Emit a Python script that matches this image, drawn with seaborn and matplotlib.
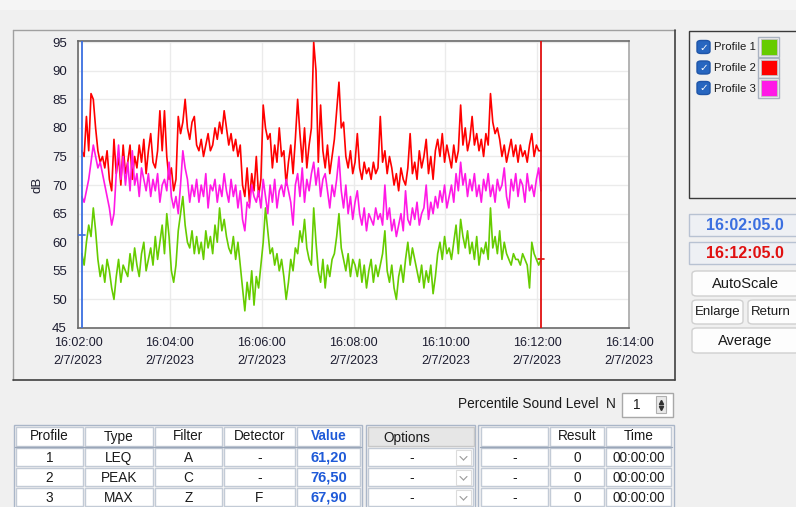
import numpy as np
import pandas as pd
import matplotlib
matplotlib.use("Agg")
import matplotlib.pyplot as plt
import matplotlib.dates as mdates
from matplotlib.patches import Rectangle, FancyBboxPatch
from matplotlib.lines import Line2D
import seaborn as sns

# ---------------- data (3 s sampling) ----------------
profile_names = ["Profile 1", "Profile 2", "Profile 3"]
profile_colors = ["#66cc00", "#ff0000", "#ff19e6"]
start_time = "2023-02-07 16:02:05"
sample_step = "3s"

profile1 = [58, 56, 60, 63, 61, 66, 62, 57, 54, 56,
            53, 57, 55, 52, 50, 54, 57, 53, 56, 55,
            54, 58, 55, 59, 56, 54, 58, 60, 55, 57,
            59, 56, 61, 57, 60, 63, 58, 65, 61, 55,
            53, 56, 62, 65, 68, 63, 60, 59, 62, 58,
            61, 58, 60, 57, 62, 59, 61, 58, 63, 60,
            66, 62, 64, 61, 59, 58, 61, 57, 60, 56,
            52, 48, 53, 50, 55, 49, 54, 52, 56, 60,
            66, 62, 58, 59, 56, 58, 55, 57, 54, 50,
            53, 57, 55, 59, 58, 62, 60, 64, 59, 57,
            56, 66, 60, 55, 53, 57, 52, 56, 54, 57,
            58, 61, 65, 59, 57, 55, 58, 54, 57, 56,
            54, 57, 53, 56, 52, 55, 57, 53, 56, 54,
            56, 58, 62, 55, 53, 56, 52, 50, 54, 56,
            53, 57, 60, 56, 59, 57, 55, 53, 56, 52,
            55, 53, 56, 51, 54, 58, 60, 57, 61, 58,
            59, 57, 60, 63, 58, 64, 61, 59, 62, 58,
            60, 57, 61, 56, 59, 58, 60, 57, 66, 59,
            61, 58, 62, 57, 60, 58, 57, 56, 58, 57,
            57, 56, 58, 57, 56, 52, 60, 58, 57, 56, 57]

profile2 = [76, 75, 82, 76, 86, 85, 80, 76, 74, 75,
            73, 76, 71, 69, 78, 72, 75, 70, 77, 72,
            74, 77, 71, 75, 73, 77, 74, 78, 72, 76,
            79, 74, 73, 76, 83, 76, 83, 75, 71, 73,
            69, 71, 82, 79, 81, 85, 80, 78, 81, 82,
            77, 76, 78, 75, 77, 79, 76, 77, 80, 78,
            81, 79, 83, 80, 77, 79, 76, 78, 75, 77,
            70, 68, 73, 67, 72, 69, 75, 68, 71, 84,
            80, 78, 79, 73, 77, 74, 80, 75, 76, 70,
            74, 77, 72, 78, 85, 79, 74, 80, 73, 77,
            80, 95, 90, 74, 84, 76, 73, 77, 72, 75,
            78, 83, 88, 80, 81, 75, 73, 76, 72, 74,
            79, 73, 71, 74, 72, 73, 71, 74, 72, 73,
            82, 74, 76, 72, 75, 73, 70, 72, 69, 73,
            71, 70, 73, 79, 72, 74, 71, 76, 73, 75,
            78, 72, 75, 71, 76, 78, 75, 79, 74, 77,
            75, 73, 77, 74, 76, 84, 77, 80, 76, 78,
            82, 77, 79, 76, 78, 75, 79, 77, 86, 81,
            79, 80, 78, 75, 77, 74, 76, 78, 75, 77,
            74, 77, 75, 76, 74, 77, 79, 75, 77, 76, 76]

profile3 = [68, 67, 69, 71, 74, 77, 75, 73, 74, 72,
            70, 68, 66, 63, 65, 72, 77, 71, 75, 70,
            74, 69, 76, 70, 72, 68, 73, 71, 69, 72,
            68, 71, 69, 72, 67, 70, 71, 69, 74, 68,
            66, 68, 65, 70, 76, 73, 71, 67, 70, 68,
            71, 67, 70, 68, 72, 66, 70, 69, 71, 67,
            70, 68, 72, 69, 67, 71, 68, 70, 66, 69,
            64, 62, 67, 66, 70, 68, 67, 69, 66, 71,
            68, 65, 70, 67, 71, 66, 69, 70, 68, 71,
            69, 67, 63, 70, 72, 68, 73, 67, 71, 69,
            72, 74, 70, 73, 68, 71, 72, 69, 66, 70,
            68, 71, 75, 69, 66, 70, 65, 68, 64, 67,
            69, 65, 63, 66, 62, 65, 64, 63, 66, 64,
            65, 63, 70, 64, 66, 62, 64, 61, 63, 65,
            62, 69, 64, 63, 66, 64, 67, 63, 65, 66,
            70, 64, 67, 65, 68, 66, 69, 67, 70, 66,
            68, 70, 67, 72, 69, 74, 70, 72, 68, 71,
            69, 72, 68, 70, 67, 71, 69, 72, 68, 70,
            67, 71, 69, 70, 73, 68, 66, 71, 69, 72,
            68, 71, 70, 67, 72, 69, 70, 68, 71, 73, 69]

y_ticks = [45, 50, 55, 60, 65, 70, 75, 80, 85, 90, 95]
x_tick_times = ["16:02:00", "16:04:00", "16:06:00", "16:08:00",
                "16:10:00", "16:12:00", "16:14:00"]
x_tick_date = "2/7/2023"
cursor_times = ["16:02:05", "16:12:05"]
cursor_values = [61.2, 57.0]
cursor_colors = ["#3b6fe0", "#e01010"]
cursor_labels = ["16:02:05.0", "16:12:05.0"]

table_headers = ["Profile", "Type", "Filter", "Detector", "Value"]
table_profile = ["1", "2", "3"]
table_type = ["LEQ", "PEAK", "MAX"]
table_filter = ["A", "C", "Z"]
table_detector = ["-", "-", "F"]
table_value = ["61,20", "76,50", "67,90"]
result_headers = ["", "Result", "Time"]
result_values = ["0", "0", "0"]
result_times = ["00:00:00", "00:00:00", "00:00:00"]
percentile_n = "1"

# ---------------- figure ----------------
sns.set_style("white")
plt.rcParams["font.family"] = ["Liberation Sans", "DejaVu Sans"]

W, H = 796, 507
fig = plt.figure(figsize=(W / 100, H / 100), dpi=100)
fig.patch.set_facecolor("#f0f0f0")


def fx(x):
    return x / W


def fy(y):
    return 1 - y / H


def rect(x0, y0, x1, y1, fc="none", ec="none", lw=1.0, z=1):
    fig.add_artist(Rectangle((fx(x0), fy(y1)), (x1 - x0) / W, (y1 - y0) / H,
                             transform=fig.transFigure, facecolor=fc,
                             edgecolor=ec, linewidth=lw, zorder=z))


def rbox(x0, y0, x1, y1, fc, ec, r=3, lw=1.0, z=1):
    fig.add_artist(FancyBboxPatch((fx(x0), fy(y1)), (x1 - x0) / W, (y1 - y0) / H,
                                  boxstyle=f"round,pad=0,rounding_size={r / H}",
                                  transform=fig.transFigure, facecolor=fc,
                                  edgecolor=ec, linewidth=lw, zorder=z))


def line(x0, y0, x1, y1, c, lw=1.0, z=2):
    fig.add_artist(Line2D([fx(x0), fx(x1)], [fy(y0), fy(y1)],
                          transform=fig.transFigure, color=c, linewidth=lw, zorder=z))


def text(x, y, s, size=9.5, color="#1a1a1a", ha="center", weight="normal", z=3):
    fig.text(fx(x), fy(y), s, fontsize=size, color=color, ha=ha, va="center",
             fontweight=weight, zorder=z)


# top strip and chart panel frame
rect(0, 0, 796, 10, fc="#f5f5f5", z=0)
line(13, 30, 675, 30, "#a0a0a0")
line(13, 30, 13, 380, "#a0a0a0")
line(675, 30, 675, 380, "#404040", lw=1.2)
line(13, 380, 675, 380, "#404040", lw=1.2)

# ---------------- main chart ----------------
ax = fig.add_axes([78 / W, 1 - 328 / H, (629 - 78) / W, (328 - 41) / H])
ax.set_facecolor("white")

times = pd.date_range(start_time, periods=len(profile1), freq=sample_step)
df = pd.DataFrame({"time": list(times) * 3,
                   "dB": profile1 + profile2 + profile3,
                   "profile": [profile_names[0]] * len(profile1)
                   + [profile_names[1]] * len(profile2)
                   + [profile_names[2]] * len(profile3)})
df["t"] = mdates.date2num(df["time"])

sns.lineplot(data=df, x="t", y="dB", hue="profile", hue_order=profile_names,
             palette=profile_colors, estimator=None, linewidth=1.2,
             legend=False, ax=ax)

t0 = mdates.date2num(pd.Timestamp("2023-02-07 " + x_tick_times[0]))
t1 = mdates.date2num(pd.Timestamp("2023-02-07 " + x_tick_times[-1]))
ax.set_xlim(t0, t1)
ax.set_ylim(45, 95.2)

xt = [mdates.date2num(pd.Timestamp("2023-02-07 " + s)) for s in x_tick_times]
ax.set_xticks(xt)
ax.set_xticklabels([f"{s}\n{x_tick_date}" for s in x_tick_times],
                   fontsize=9, color="#1c1c30", linespacing=1.65)
ax.set_yticks(y_ticks)
ax.set_yticklabels([str(v) for v in y_ticks], fontsize=9.5, color="#1c1c30")
ax.tick_params(axis="both", length=0)
ax.tick_params(axis="x", pad=6.5)
ax.tick_params(axis="y", pad=8)
ax.grid(True, color="#ebebeb", linewidth=1)
ax.set_axisbelow(True)
ax.set_xlabel("")
ax.set_ylabel("dB", fontsize=9.5, color="#1c1c30")
ax.yaxis.set_label_coords(-0.062, 0.5)
for side in ["top", "left", "bottom"]:
    ax.spines[side].set_color("#6a6a6a")
    ax.spines[side].set_linewidth(1.2)
ax.spines["right"].set_color("#a8a8a8")
ax.spines["right"].set_linewidth(1.2)

half = 4.5 / 86400
for ct, cv, cc in zip(cursor_times, cursor_values, cursor_colors):
    tc = mdates.date2num(pd.Timestamp("2023-02-07 " + ct))
    ax.axvline(tc, color=cc, linewidth=1.3, zorder=5)
    ax.plot([tc - half, tc + half], [cv, cv], color=cc, linewidth=1.2, zorder=5)

# ---------------- legend panel ----------------
rect(689, 31, 800, 198, fc="#f0f0f0", ec="#3a3a3a", lw=1.0)
for i, (name, col) in enumerate(zip(profile_names, profile_colors)):
    yc = 47 + i * 20.5
    rbox(697, yc - 6.5, 710, yc + 6.5, fc="#2766c0", ec="#1f55a8", r=2.5, z=3)
    text(703.5, yc + 0.5, "\u2713", size=7.5, color="white", z=4)
    text(714, yc + 0.5, name, size=8.2, ha="left", color="#1a1a1a")
    rect(758, yc - 10, 779, yc + 10, fc="#f0f0f0", ec="#a9b2c0", lw=1.0)
    rect(761, yc - 7.5, 777, yc + 7.5, fc=col, ec="#c0c0c0", lw=0.6)

# time readouts
for i, (lab, col) in enumerate(zip(cursor_labels, cursor_colors)):
    y0 = 214 + i * 28
    rect(689, y0, 800, y0 + 22, fc="#eef0f4", ec="#b8c2d2", lw=1.0)
    text(745, y0 + 11, lab, size=11.5, color=col, weight="bold")

# buttons
buttons = [("AutoScale", 692, 271, 800, 296, 745),
           ("Enlarge", 692, 300, 743, 324, 717.5),
           ("Return", 748, 300, 800, 324, 771),
           ("Average", 692, 328, 800, 353, 745)]
for lab, x0, y0, x1, y1, cx in buttons:
    rbox(x0, y0, x1, y1, fc="#fdfdfd", ec="#d0d0d0", r=3)
    text(cx, (y0 + y1) / 2, lab,
         size=10.5 if lab in ("AutoScale", "Average") else 9.5)

# ---------------- percentile control ----------------
text(616, 404, "Percentile Sound Level  N", size=9.8, ha="right")
rect(622, 393, 673, 417, fc="white", ec="#a8a8a8")
text(637, 405, percentile_n, size=9.8)
rect(656, 396, 666, 413, fc="#e9e9e9", ec="#b0b0b0", lw=0.8)
fig.add_artist(Line2D([fx(661)], [fy(401.5)], marker="^", markersize=3,
                      color="#303030", transform=fig.transFigure, zorder=4))
fig.add_artist(Line2D([fx(661)], [fy(408)], marker="v", markersize=3,
                      color="#303030", transform=fig.transFigure, zorder=4))

# ---------------- tables ----------------
cell_ec = "#c3cbd6"
row_y = [447, 467, 487, 507]

# table 1
cols1 = [15, 84, 154, 223, 296, 361]
rect(14, 425, 362, 512, fc="#f4f4f4", ec="#aab6c8")
for j in range(5):
    rect(cols1[j] + 1, 427, cols1[j + 1] - 1, 446, fc="white", ec=cell_ec)
    is_val = table_headers[j] == "Value"
    text((cols1[j] + cols1[j + 1]) / 2, 436.5, table_headers[j], size=9.8,
         color="#1f5ad8" if is_val else "#1a1a1a",
         weight="bold" if is_val else "normal")
line(15, 447, 361, 447, "#9aa6b8")
cols_data = [table_profile, table_type, table_filter, table_detector, table_value]
for r in range(3):
    ya, yb = row_y[r] + 1, row_y[r + 1] - 1
    for j in range(5):
        rect(cols1[j] + 1, ya, cols1[j + 1] - 1, yb, fc="white", ec=cell_ec)
        is_val = j == 4
        text((cols1[j] + cols1[j + 1]) / 2, (ya + yb) / 2 + 1, cols_data[j][r],
             size=10.5 if is_val else 9.8,
             color="#1f5ad8" if is_val else "#1a1a1a",
             weight="bold" if is_val else "normal")

# options table
rect(366, 425, 475, 512, fc="#f4f4f4", ec="#aab6c8")
rect(368, 427, 474, 446, fc="#e6e6e6", ec="#c8c8c8")
text(407, 438, "Options", size=9.8)
for r in range(3):
    ya, yb = row_y[r] + 1, row_y[r + 1] - 1
    rect(368, ya, 473, yb, fc="white", ec=cell_ec)
    text(412, (ya + yb) / 2 + 1, "-", size=9.8)
    rect(456, ya + 2, 471, yb - 1, fc="white", ec="#dcdcdc", lw=0.8)
    cy = (ya + yb) / 2 + 1.5
    line(460, cy - 2, 463.5, cy + 1.5, "#9a9a9a", lw=0.8, z=4)
    line(463.5, cy + 1.5, 467, cy - 2, "#9a9a9a", lw=0.8, z=4)

# result table
cols3 = [480, 549, 605, 672]
rect(478, 425, 674, 512, fc="#f4f4f4", ec="#aab6c8")
for j in range(3):
    rect(cols3[j] + 1, 427, cols3[j + 1] - 1, 446, fc="white", ec=cell_ec)
    text((cols3[j] + cols3[j + 1]) / 2, 436.5, result_headers[j], size=9.8)
line(480, 447, 672, 447, "#9aa6b8")
cols3_data = [["-", "-", "-"], result_values, result_times]
for r in range(3):
    ya, yb = row_y[r] + 1, row_y[r + 1] - 1
    for j in range(3):
        rect(cols3[j] + 1, ya, cols3[j + 1] - 1, yb, fc="white", ec=cell_ec)
        text((cols3[j] + cols3[j + 1]) / 2, (ya + yb) / 2 + 1, cols3_data[j][r],
             size=9.8)

fig.savefig("out.png", dpi=100, facecolor=fig.get_facecolor())
